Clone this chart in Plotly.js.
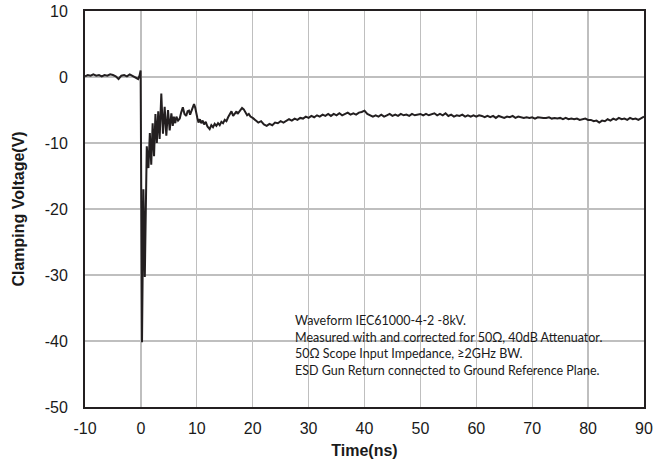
<!DOCTYPE html>
<html>
<head>
<meta charset="utf-8">
<script src="https://cdn.plot.ly/plotly-3.0.1.min.js"></script>
<style>html,body{margin:0;padding:0;background:#fff;}#chart{width:672px;height:463px;}</style>
</head>
<body>
<div id="chart"></div>
<script>
// Time axis samples (ns)
const timeNs = [
  -10,-9.5,-9,-8.5,-8,-7.5,-7,-6.5,-6,-5.5,-5,-4.5,-4,-3.5,-3,-2.5,-2,-1.5,-1,-0.5,
  -0.25,-0.05,0.2,0.45,0.7,1.05,1.35,1.6,1.85,2.1,2.35,2.6,2.85,3.1,3.35,3.65,3.95,4.25,4.55,4.85,
  5.15,5.45,5.7,5.9,6.15,6.35,6.65,6.95,7.2,7.5,7.8,8.1,8.35,8.6,8.8,9.0,9.25,9.5,9.7,9.9,
  10.1,10.3,10.55,10.8,11.05,11.3,11.6,11.9,12.3,12.6,12.9,13.2,13.5,13.8,14.1,14.4,14.7,15.0,15.3,15.6,
  15.9,16.2,16.5,16.8,17.1,17.3,17.6,17.9,18.1,18.4,18.7,19.0,19.3,19.6,
  20,20.5,21,21.5,22,22.5,23,23.5,24,24.5,25,25.5,26,26.5,27,27.5,28,28.5,29,29.5,
  30,30.5,31,31.5,32,32.5,33,33.5,34,34.5,35,35.5,36,36.5,37,37.5,38,38.5,39,39.5,
  40,40.5,41,41.5,42,42.5,43,43.5,44,44.5,45,45.5,46,46.5,47,47.5,48,48.5,49,49.5,
  50,50.5,51,51.5,52,52.5,53,53.5,54,54.5,55,55.5,56,56.5,57,57.5,58,58.5,59,59.5,
  60,60.5,61,61.5,62,62.5,63,63.5,64,64.5,65,65.5,66,66.5,67,67.5,68,68.5,69,69.5,
  70,70.5,71,71.5,72,72.5,73,73.5,74,74.5,75,75.5,76,76.5,77,77.5,78,78.5,79,79.5,
  80,80.5,81,81.5,82,82.5,83,83.5,84,84.5,85,85.5,86,86.5,87,87.5,88,88.5,89,89.5,90
];
// Clamping voltage (V)
const clampV = [
  0.1,0.3,0.2,0.4,0.2,0.3,0.1,0.3,0.2,0.4,0.3,0.1,-0.3,0.2,0.3,0.1,0.4,0.2,0.0,-0.3,
  0.2,1.0,-40.2,-17.0,-30.3,-10.5,-13.8,-8.5,-13.3,-7.0,-12.0,-5.6,-10.0,-5.2,-9.4,-2.5,-8.6,-4.5,-8.9,-5.0,
  -8.1,-5.5,-7.4,-6.0,-7.0,-6.0,-6.6,-6.3,-5.4,-4.6,-5.6,-5.9,-5.2,-5.1,-5.7,-5.3,-4.8,-4.1,-4.6,-5.2,
  -6.2,-6.9,-6.4,-7.0,-6.6,-7.2,-6.8,-7.5,-7.9,-7.3,-7.6,-7.1,-7.4,-7.0,-7.3,-6.8,-7.0,-6.5,-6.7,-6.1,
  -5.7,-5.2,-5.9,-5.6,-5.2,-5.6,-5.2,-5.0,-4.7,-4.9,-5.4,-5.8,-5.6,-6.0,
  -6.2,-6.5,-6.9,-6.7,-7.2,-7.4,-7.1,-7.3,-6.9,-7.0,-6.7,-6.9,-6.6,-6.4,-6.6,-6.3,-6.5,-6.2,-6.3,-6.0,
  -6.2,-5.9,-6.1,-5.8,-6.0,-5.7,-5.9,-5.6,-5.9,-5.6,-5.8,-5.5,-5.8,-5.6,-5.4,-5.7,-5.5,-5.7,-5.4,-5.3,
  -5.1,-5.6,-5.8,-6.0,-5.8,-6.0,-5.7,-6.0,-5.8,-5.6,-5.9,-5.7,-5.9,-5.6,-5.8,-5.7,-5.9,-5.6,-5.8,-5.7,
  -5.6,-5.8,-5.6,-5.8,-5.7,-5.5,-5.8,-5.6,-5.8,-5.5,-5.9,-5.7,-6.0,-5.8,-5.9,-5.7,-6.0,-5.8,-6.0,-5.8,
  -6.0,-5.8,-5.9,-6.1,-5.9,-6.1,-5.9,-6.2,-5.9,-6.0,-6.2,-6.0,-6.1,-5.9,-6.2,-6.0,-6.1,-6.2,-6.1,-6.2,
  -6.1,-6.3,-6.1,-6.2,-6.2,-6.2,-6.1,-6.3,-6.2,-6.3,-6.2,-6.4,-6.2,-6.4,-6.3,-6.4,-6.3,-6.5,-6.4,-6.3,
  -6.5,-6.5,-6.7,-6.6,-6.9,-6.6,-6.7,-6.4,-6.6,-6.3,-6.5,-6.2,-6.4,-6.3,-6.5,-6.2,-6.4,-6.3,-6.5,-6.3,-6.0
];
const xTicks = [-10,0,10,20,30,40,50,60,70,80,90];
const yTicks = [-50,-40,-30,-20,-10,0,10];
const noteLines = [
  'Waveform IEC61000-4-2 -8kV.',
  'Measured with and corrected for 50\u03A9, 40dB Attenuator.',
  '50\u03A9 Scope Input Impedance, \u22652GHz BW.',
  'ESD Gun Return connected to Ground Reference Plane.'
];

const axisFont = {family: 'Arial, "Liberation Sans", sans-serif', size: 16, color: '#1a1a1a'};
const titleFont = {family: 'Arial, "Liberation Sans", sans-serif', size: 16, color: '#1a1a1a', weight: 'bold'};

const noteTop = 0.218, noteStep = 0.0417;
const annotations = noteLines.map((t, i) => ({
  xref: 'paper', yref: 'paper', x: 0.372, y: noteTop - i * noteStep,
  xanchor: 'left', yanchor: 'middle', showarrow: false, align: 'left',
  text: t, font: {family: 'Lato, "Open Sans", sans-serif', size: 12.5, color: '#1a1a1a'}
}));

Plotly.newPlot('chart', [{
  x: timeNs, y: clampV, type: 'scatter', mode: 'lines',
  line: {color: '#231f20', width: 2}, hoverinfo: 'skip'
}], {
  width: 672, height: 463,
  margin: {l: 85, r: 28, t: 11, b: 56},
  paper_bgcolor: '#fff', plot_bgcolor: '#fff',
  showlegend: false,
  xaxis: {
    range: [-10, 90], tickvals: xTicks, ticktext: xTicks.map(String),
    showgrid: true, gridcolor: '#bfbfbf', gridwidth: 1.3, zeroline: false,
    showline: true, mirror: true, linecolor: '#231f20', linewidth: 2,
    ticks: '', tickfont: axisFont, ticklabelstandoff: 6,
    title: {text: 'Time(ns)', font: titleFont, standoff: 9}
  },
  yaxis: {
    range: [-50, 10], tickvals: yTicks, ticktext: yTicks.map(String),
    showgrid: true, gridcolor: '#bfbfbf', gridwidth: 1.3, zeroline: false,
    showline: true, mirror: true, linecolor: '#231f20', linewidth: 2,
    ticks: '', tickfont: axisFont, ticklabelstandoff: 12,
    title: {text: 'Clamping Voltage(V)', font: titleFont, standoff: 16}
  },
  shapes: [{
    type: 'rect', xref: 'paper', yref: 'paper', x0: 0.358, x1: 0.968, y0: 0.028, y1: 0.2525,
    fillcolor: '#ffffff', line: {width: 0}, layer: 'between'
  }],
  annotations: annotations
}, {staticPlot: true});
</script>
</body>
</html>
